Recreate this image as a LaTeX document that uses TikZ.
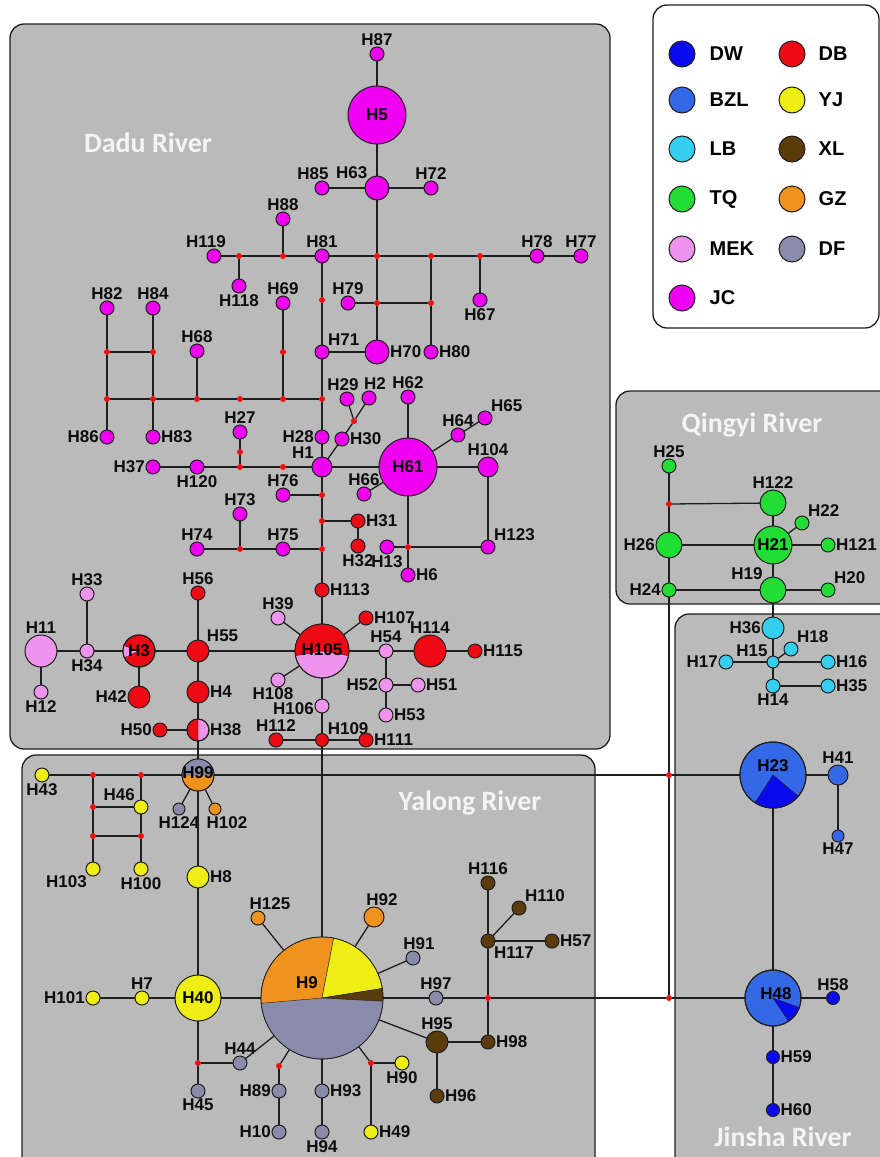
\documentclass[tikz,border=0pt]{standalone}
\usepackage{fontspec}
\setmainfont{Liberation Sans}
\newfontfamily\riverfont{Carlito}
\usetikzlibrary{positioning}

\definecolor{jc}{HTML}{F000F0}
\definecolor{db}{HTML}{EE0A14}
\definecolor{mek}{HTML}{EE94EE}
\definecolor{dw}{HTML}{0A0AEE}
\definecolor{bzl}{HTML}{3568E6}
\definecolor{lb}{HTML}{36CFEF}
\definecolor{tq}{HTML}{22DD33}
\definecolor{yj}{HTML}{EEEE14}
\definecolor{xl}{HTML}{5C3B0A}
\definecolor{gz}{HTML}{F0921E}
\definecolor{df}{HTML}{8A8AAA}
\definecolor{linecol}{HTML}{1E1E1E}
\definecolor{boxgray}{HTML}{BABABA}
\definecolor{titlecol}{HTML}{F4F4F4}
\definecolor{mvred}{HTML}{EE1111}

\newcommand{\hapslice}[5]{\filldraw[fill=#1,draw=linecol,line width=0.4pt] (#2.center) -- ++(#3:#5) arc[start angle=#3,end angle=#4,radius=#5] -- cycle;}

\begin{document}
\begin{tikzpicture}[
        x=1pt,y=-1pt,
        every label/.style={font=\bfseries\fontsize{17}{17}\selectfont,inner sep=1pt,text=black!95},
        every edge/.append style={draw=linecol,line width=1.3pt}
    ]

    \tikzstyle{river} = [draw=linecol,fill=boxgray,rounded corners=14pt,line width=1.3pt]
    \tikzstyle{hap} = [circle,draw=linecol,line width=1pt,inner sep=0pt,outer sep=0pt,minimum size=14pt,font=\bfseries\fontsize{17}{17}\selectfont]
    \tikzstyle{mv} = [circle,fill=mvred,inner sep=0pt,outer sep=0pt,minimum size=6pt]
    \tikzstyle{rivername} = [font=\riverfont\bfseries\fontsize{28}{28}\selectfont,text=titlecol]
    \tikzstyle{legdot} = [circle,draw=linecol,line width=1pt,minimum size=26pt,inner sep=0pt]
    \tikzstyle{legtext} = [inner sep=1pt,font=\bfseries\fontsize{20}{20}\selectfont]
    \tikzstyle{pietext} = [inner sep=0pt,font=\bfseries\fontsize{17}{17}\selectfont]

    \useasboundingbox (0,0) rectangle (880,1157);
    \clip (0,0) rectangle (880,1157);

    \draw[river] (10,24) rectangle (610,749);
    \draw[river] (22,755) rectangle (595,1172);
    \draw[river] (616,391) rectangle (895,604);
    \draw[river] (675,614) rectangle (895,1172);
    \draw[fill=white,draw=linecol,line width=1.3pt,rounded corners=14pt] (653,5) rectangle (879,328);

    \node[rivername] (dadu) at (148,143) {Dadu River};
    \node[rivername] (yalong) at (470,803) {Yalong River};
    \node[rivername] (qingyi) at (752,425) {Qingyi River};
    \node[rivername] (jinsha) at (783,1137) {Jinsha River};

    \node[legdot,fill=dw] (kDW) at (682,54) {};
    \node[legdot,fill=bzl] (kBZL) at (682,100) {};
    \node[legdot,fill=lb] (kLB) at (682,149) {};
    \node[legdot,fill=tq] (kTQ) at (682,199) {};
    \node[legdot,fill=mek] (kMEK) at (682,249) {};
    \node[legdot,fill=jc] (kJC) at (682,298) {};
    \node[legdot,fill=db] (kDB) at (792,54) {};
    \node[legdot,fill=yj] (kYJ) at (792,100) {};
    \node[legdot,fill=xl] (kXL) at (792,149) {};
    \node[legdot,fill=gz] (kGZ) at (792,199) {};
    \node[legdot,fill=df] (kDF) at (792,249) {};
    \node[legtext,right=13pt of kDW] {DW};
    \node[legtext,right=13pt of kBZL] {BZL};
    \node[legtext,right=13pt of kLB] {LB};
    \node[legtext,right=13pt of kTQ] {TQ};
    \node[legtext,right=13pt of kMEK] {MEK};
    \node[legtext,right=13pt of kJC] {JC};
    \node[legtext,right=12pt of kDB] {DB};
    \node[legtext,right=12pt of kYJ] {YJ};
    \node[legtext,right=12pt of kXL] {XL};
    \node[legtext,right=12pt of kGZ] {GZ};
    \node[legtext,right=12pt of kDF] {DF};

    \node[hap,fill=jc,label=above:H87] (H87) at (377,54) {};
    \node[hap,fill=jc,minimum size=58pt] (H5) at (377,115) {H5};
    \node[hap,fill=jc,minimum size=24pt,label=above left:H63] (H63) at (377,188) {};
    \node[hap,fill=jc,label={[xshift=-9pt]above:H85}] (H85) at (322,188) {};
    \node[hap,fill=jc,label=above:H72] (H72) at (431,188) {};
    \node[hap,fill=jc,label={[xshift=-8pt]above:H119}] (H119) at (214,256) {};
    \node[mv] (m1) at (239,256) {};
    \node[mv] (m2) at (283,256) {};
    \node[hap,fill=jc,label=above:H81] (H81) at (322,256) {};
    \node[mv] (m3) at (377,256) {};
    \node[mv] (m4) at (431,256) {};
    \node[mv] (m5) at (480,256) {};
    \node[hap,fill=jc,label=above:H78] (H78) at (537,256) {};
    \node[hap,fill=jc,label=above:H77] (H77) at (581,256) {};
    \node[hap,fill=jc,label=below:H118] (H118) at (239,286) {};
    \node[hap,fill=jc,label=above:H88] (H88) at (283,219) {};
    \node[hap,fill=jc,label=below:H67] (H67) at (480,300) {};
    \node[mv] (m6) at (377,303) {};
    \node[mv] (m7) at (431,303) {};
    \node[hap,fill=jc,label=above:H79] (H79) at (348,303) {};
    \node[mv] (m8) at (322,300) {};
    \node[hap,fill=jc,label=above:H69] (H69) at (283,303) {};
    \node[mv] (m9) at (283,352) {};
    \node[hap,fill=jc,label=above right:H71] (H71) at (322,352) {};
    \node[hap,fill=jc,minimum size=24pt,label=right:H70] (H70) at (377,352) {};
    \node[hap,fill=jc,label=right:H80] (H80) at (431,352) {};
    \node[mv] (m10) at (107,399) {};
    \node[mv] (m11) at (153,399) {};
    \node[mv] (m12) at (197,399) {};
    \node[mv] (m13) at (240,399) {};
    \node[mv] (m14) at (283,399) {};
    \node[mv] (m15) at (322,399) {};
    \node[mv] (m16) at (107,352) {};
    \node[mv] (m17) at (153,352) {};
    \node[hap,fill=jc,label=above:H82] (H82) at (107,308) {};
    \node[hap,fill=jc,label=above:H84] (H84) at (153,308) {};
    \node[hap,fill=jc,label=left:H86] (H86) at (107,437) {};
    \node[hap,fill=jc,label=right:H83] (H83) at (153,437) {};
    \node[hap,fill=jc,label=above:H68] (H68) at (197,351) {};
    \node[hap,fill=jc,label=left:H28] (H28) at (322,437) {};
    \node[hap,fill=jc,minimum size=20pt,label=above left:H1] (H1) at (322,467) {};
    \node[hap,fill=jc,label=right:H30] (H30) at (342,439) {};
    \node[mv] (m18) at (354,421) {};
    \node[hap,fill=jc,label={[xshift=-4pt]above:H29}] (H29) at (347,399) {};
    \node[hap,fill=jc,label={[xshift=6pt]above:H2}] (H2) at (369,398) {};
    \node[hap,fill=jc,minimum size=58pt] (H61) at (408,467) {H61};
    \node[hap,fill=jc,label=above:H62] (H62) at (408,397) {};
    \node[hap,fill=jc,label=above:H64] (H64) at (458,435) {};
    \node[hap,fill=jc,label=above right:H65] (H65) at (485,418) {};
    \node[hap,fill=jc,minimum size=20pt,label=above:H104] (H104) at (488,467) {};
    \node[hap,fill=jc,label=above right:H123] (H123) at (488,547) {};
    \node[hap,fill=jc,label=above:H66] (H66) at (364,494) {};
    \node[mv] (m19) at (408,547) {};
    \node[hap,fill=jc,label=below:H13] (H13) at (387,547) {};
    \node[hap,fill=jc,label=right:H6] (H6) at (408,575) {};
    \node[mv] (m20) at (283,467) {};
    \node[mv] (m21) at (240,467) {};
    \node[mv] (m22) at (240,452) {};
    \node[hap,fill=jc,label=above:H27] (H27) at (240,432) {};
    \node[hap,fill=jc,label=below:H120] (H120) at (197,467) {};
    \node[hap,fill=jc,label=left:H37] (H37) at (153,467) {};
    \node[mv] (m23) at (322,495) {};
    \node[hap,fill=jc,label=above:H76] (H76) at (283,495) {};
    \node[mv] (m24) at (322,521) {};
    \node[hap,fill=db,label=right:H31] (H31) at (358,521) {};
    \node[hap,fill=db,label=below:H32] (H32) at (358,546) {};
    \node[mv] (m25) at (322,549) {};
    \node[hap,fill=jc,label=above:H75] (H75) at (283,549) {};
    \node[mv] (m26) at (240,549) {};
    \node[hap,fill=jc,label=above:H74] (H74) at (197,549) {};
    \node[hap,fill=jc,label=above:H73] (H73) at (240,514) {};
    \node[hap,fill=db,label=right:H113] (H113) at (322,590) {};
    \node[hap,fill=mek,minimum size=54pt] (H105) at (322,651) {};
    \node[hap,fill=db,label=right:H107] (H107) at (366,618) {};
    \node[hap,fill=mek,label=above:H39] (H39) at (278,618) {};
    \node[hap,fill=mek,label={[xshift=-5pt,yshift=1pt]below:H108}] (H108) at (278,680) {};
    \node[hap,fill=mek,label=above:H54] (H54) at (386,651) {};
    \node[hap,fill=db,minimum size=32pt,label=above:H114] (H114) at (430,651) {};
    \node[hap,fill=db,label=right:H115] (H115) at (475,651) {};
    \node[hap,fill=mek,label=left:H52] (H52) at (386,685) {};
    \node[hap,fill=mek,label=right:H51] (H51) at (418,685) {};
    \node[hap,fill=mek,label=right:H53] (H53) at (386,715) {};
    \node[hap,fill=mek,label={[yshift=-3pt]left:H106}] (H106) at (322,706) {};
    \node[hap,fill=db,minimum size=13pt,label=above right:H109] (H109) at (322,740) {};
    \node[hap,fill=db,label=right:H111] (H111) at (366,740) {};
    \node[hap,fill=db,label=above:H112] (H112) at (276,740) {};
    \node[hap,fill=mek,minimum size=32pt,label=above:H11] (H11) at (41,651) {};
    \node[hap,fill=mek,label=below:H12] (H12) at (41,692) {};
    \node[hap,fill=mek,label=below:H34] (H34) at (87,651) {};
    \node[hap,fill=mek,label=above:H33] (H33) at (87,594) {};
    \node[hap,fill=db,minimum size=32pt] (H3) at (139,651) {};
    \node[hap,fill=db,minimum size=22pt,label=left:H42] (H42) at (139,697) {};
    \node[hap,fill=db,minimum size=22pt,label=above right:H55] (H55) at (198,651) {};
    \node[hap,fill=db,label=above:H56] (H56) at (198,593) {};
    \node[hap,fill=db,minimum size=22pt,label=right:H4] (H4) at (198,692) {};
    \node[hap,fill=mek,minimum size=22pt,label=right:H38] (H38) at (198,730) {};
    \node[hap,fill=db,label=left:H50] (H50) at (160,730) {};

    \node[hap,fill=gz,minimum size=32pt] (H99) at (198,775) {};
    \node[hap,fill=yj,label=below:H43] (H43) at (42,775) {};
    \node[mv] (m27) at (93,775) {};
    \node[mv] (m28) at (141,775) {};
    \node[mv] (m29) at (93,807) {};
    \node[hap,fill=yj,label=above left:H46] (H46) at (141,807) {};
    \node[mv] (m30) at (93,836) {};
    \node[mv] (m31) at (141,836) {};
    \node[hap,fill=yj,label=below left:H103] (H103) at (93,869) {};
    \node[hap,fill=yj,label=below:H100] (H100) at (141,869) {};
    \node[hap,fill=df,minimum size=12pt,label=below:H124] (H124) at (179,809) {};
    \node[hap,fill=gz,minimum size=12pt,label={[xshift=12pt]below:H102}] (H102) at (215,809) {};
    \node[hap,fill=yj,minimum size=22pt,label=right:H8] (H8) at (198,877) {};
    \node[hap,fill=yj,minimum size=46pt] (H40) at (198,998) {H40};
    \node[hap,fill=yj,label=above:H7] (H7) at (142,998) {};
    \node[hap,fill=yj,label=left:H101] (H101) at (93,998) {};
    \node[hap,fill=df,line width=0.6pt,minimum size=122pt] (H9) at (322,998) {};
    \node[hap,fill=gz,label={[xshift=12pt]above:H125}] (H125) at (258,918) {};
    \node[hap,fill=gz,minimum size=20pt,label={[xshift=8pt]above:H92}] (H92) at (374,917) {};
    \node[hap,fill=df,label={[xshift=6pt]above:H91}] (H91) at (413,958) {};
    \node[hap,fill=df,label=above:H97] (H97) at (436,998) {};
    \node[mv] (m32) at (488,998) {};
    \node[hap,fill=xl,label=below right:H117] (H117) at (488,941) {};
    \node[hap,fill=xl,label=above:H116] (H116) at (488,883) {};
    \node[hap,fill=xl,label=above right:H110] (H110) at (519,908) {};
    \node[hap,fill=xl,label=right:H57] (H57) at (552,941) {};
    \node[hap,fill=xl,label=right:H98] (H98) at (488,1042) {};
    \node[hap,fill=xl,minimum size=22pt,label=above:H95] (H95) at (437,1042) {};
    \node[hap,fill=xl,label=right:H96] (H96) at (437,1096) {};
    \node[mv] (m33) at (198,1063) {};
    \node[hap,fill=df,label=above:H44] (H44) at (240,1063) {};
    \node[hap,fill=df,label=below:H45] (H45) at (198,1091) {};
    \node[mv] (m34) at (279,1066) {};
    \node[hap,fill=df,label=left:H89] (H89) at (279,1091) {};
    \node[hap,fill=df,label=left:H10] (H10) at (279,1132) {};
    \node[hap,fill=df,label=right:H93] (H93) at (322,1091) {};
    \node[hap,fill=df,label=below:H94] (H94) at (322,1132) {};
    \node[mv] (m35) at (371,1063) {};
    \node[hap,fill=yj,label=below:H90] (H90) at (402,1063) {};
    \node[hap,fill=yj,label=right:H49] (H49) at (371,1132) {};

    \node[mv] (m36) at (669,775) {};
    \node[mv] (m37) at (669,998) {};
    \node[hap,fill=bzl,minimum size=66pt] (H23) at (773,775) {};
    \node[hap,fill=bzl,minimum size=20pt,label=above:H41] (H41) at (838,775) {};
    \node[hap,fill=bzl,minimum size=12pt,label=below:H47] (H47) at (838,836) {};
    \node[hap,fill=bzl,minimum size=56pt] (H48) at (773,998) {};
    \node[hap,fill=dw,minimum size=13pt,label=above:H58] (H58) at (833,998) {};
    \node[hap,fill=dw,minimum size=13pt,label=right:H59] (H59) at (773,1057) {};
    \node[hap,fill=dw,minimum size=13pt,label=right:H60] (H60) at (773,1110) {};
    \node[hap,fill=tq,label=above:H25] (H25) at (669,466) {};
    \node[mv] (m38) at (669,504) {};
    \node[hap,fill=tq,minimum size=26pt,label=above:H122] (H122) at (773,503) {};
    \node[hap,fill=tq,minimum size=26pt,label=left:H26] (H26) at (669,545) {};
    \node[hap,fill=tq,minimum size=38pt] (H21) at (773,545) {H21};
    \node[hap,fill=tq,label=above right:H22] (H22) at (802,523) {};
    \node[hap,fill=tq,label=right:H121] (H121) at (828,545) {};
    \node[hap,fill=tq,minimum size=26pt,label=above left:H19] (H19) at (773,590) {};
    \node[hap,fill=tq,label=left:H24] (H24) at (669,590) {};
    \node[hap,fill=tq,label=above right:H20] (H20) at (828,590) {};
    \node[hap,fill=lb,minimum size=22pt,label=left:H36] (H36) at (773,628) {};
    \node[hap,fill=lb,minimum size=12pt,label=above left:H15] (H15) at (773,662) {};
    \node[hap,fill=lb,label=above right:H18] (H18) at (791,649) {};
    \node[hap,fill=lb,label=left:H17] (H17) at (726,662) {};
    \node[hap,fill=lb,label=right:H16] (H16) at (828,662) {};
    \node[hap,fill=lb,label=below:H14] (H14) at (773,686) {};
    \node[hap,fill=lb,label=right:H35] (H35) at (828,686) {};

    \hapslice{gz}{H9}{79}{185}{61pt}
    \hapslice{yj}{H9}{9}{79}{61pt}
    \hapslice{xl}{H9}{-3}{9}{61pt}
    \draw[linecol,line width=0.6pt] (H9.center) circle[radius=61pt];
    \hapslice{db}{H105}{-10}{190}{27pt}
    \draw[linecol,line width=0.6pt] (H105.center) circle[radius=27pt];
    \hapslice{mek}{H3}{160}{205}{16pt}
    \draw[linecol,line width=1pt] (H3.center) circle[radius=16pt];
    \hapslice{db}{H38}{90}{270}{11pt}
    \draw[linecol,line width=1pt] (H38.center) circle[radius=11pt];
    \hapslice{df}{H99}{0}{180}{16pt}
    \draw[linecol,line width=0.6pt] (H99.center) circle[radius=16pt];
    \hapslice{dw}{H23}{-123}{-40}{33pt}
    \draw[linecol,line width=1pt] (H23.center) circle[radius=33pt];
    \hapslice{dw}{H48}{-56}{-20}{28pt}
    \draw[linecol,line width=1pt] (H48.center) circle[radius=28pt];

    \node[pietext] (t9) at (307,983) {H9};
    \node[pietext] (t105) at (322,650) {H105};
    \node[pietext] (t3) at (139,651) {H3};
    \node[pietext] (t99) at (198,773) {H99};
    \node[pietext] (t23) at (773,766) {H23};
    \node[pietext] (t48) at (776,994) {H48};

    \path
        (H87) edge (H5) (H5) edge (H63) (H85) edge (H63) (H63) edge (H72) (H63) edge (m3)
        (H119) edge (m1) (m1) edge (m2) (m2) edge (H81) (H81) edge (m3) (m3) edge (m4) (m4) edge (m5)
        (m5) edge (H78) (H78) edge (H77)
        (m1) edge (H118) (m2) edge (H88) (m5) edge (H67)
        (m3) edge (m6) (m6) edge (H70) (H79) edge (m6) (m6) edge (m7) (m7) edge (m4) (m7) edge (H80)
        (H81) edge (m8) (m8) edge (H71) (H71) edge (H70) (H71) edge (m15)
        (H69) edge (m9) (m9) edge (m14)
        (m10) edge (m11) (m11) edge (m12) (m12) edge (m13) (m13) edge (m14) (m14) edge (m15)
        (H82) edge (m16) (m16) edge (m10) (m10) edge (H86) (H84) edge (m17) (m17) edge (m11) (m11) edge (H83)
        (m16) edge (m17) (H68) edge (m12)
        (m15) edge (H28) (H28) edge (H1)
        (H1) edge (H30) (H30) edge (m18) (m18) edge (H29) (m18) edge (H2)
        (H1) edge (H61) (H61) edge (H62) (H61) edge (H64) (H64) edge (H65) (H61) edge (H104)
        (H104) edge (H123) (H61) edge (H66) (H61) edge (m19) (m19) edge (H13) (m19) edge (H123) (m19) edge (H6)
        (H1) edge (m20) (m20) edge (m21) (m21) edge (H120) (H120) edge (H37) (m21) edge (m22) (m22) edge (H27)
        (H1) edge (m23) (m23) edge (H76) (m23) edge (m24) (m24) edge (H31) (H31) edge (H32) (m24) edge (m25)
        (m25) edge (H75) (H75) edge (m26) (m26) edge (H74) (m26) edge (H73)
        (m25) edge (H113) (H113) edge (H105)
        (H105) edge (H107) (H105) edge (H39) (H105) edge (H108) (H105) edge (H54) (H54) edge (H114)
        (H114) edge (H115) (H54) edge (H52) (H52) edge (H51) (H52) edge (H53)
        (H105) edge (H106) (H106) edge (H109) (H109) edge (H112) (H109) edge (H111)
        (H105) edge (H55) (H55) edge (H3) (H3) edge (H34) (H34) edge (H11) (H11) edge (H12) (H34) edge (H33)
        (H3) edge (H42)
        (H55) edge (H56) (H55) edge (H4) (H4) edge (H38) (H38) edge (H50) (H38) edge (H99)
        (H109) edge (H9)
        (H43) edge (m27) (m27) edge (m28) (m28) edge (H99) (H99) edge (m36) (m36) edge (H23)
        (m27) edge (m29) (m29) edge (H46) (m28) edge (H46) (m29) edge (m30) (m30) edge (m31) (H46) edge (m31)
        (m30) edge (H103) (m31) edge (H100)
        (H99) edge (H124) (H99) edge (H102) (H99) edge (H8) (H8) edge (H40)
        (H101) edge (H7) (H7) edge (H40) (H40) edge (H9)
        (H40) edge (m33) (m33) edge (H44) (m33) edge (H45) (H44) edge (H9)
        (H9) edge (H125) (H9) edge (H92) (H9) edge (H91) (H9) edge (H97) (H97) edge (m32) (m32) edge (m37)
        (m37) edge (H48)
        (m32) edge (H117) (H117) edge (H116) (H117) edge (H110) (H117) edge (H57) (m32) edge (H98)
        (H98) edge (H95) (H95) edge (H9) (H95) edge (H96)
        (H9) edge (m34) (m34) edge (H89) (H89) edge (H10)
        (H9) edge (H93) (H93) edge (H94)
        (H9) edge (m35) (m35) edge (H90) (m35) edge (H49)
        (H25) edge (m38) (m38) edge (H26) (H26) edge (H24) (H24) edge (m36) (m36) edge (m37) (m38) edge (H122)
        (H122) edge (H21) (H26) edge (H21) (H21) edge (H22) (H21) edge (H121) (H21) edge (H19) (H24) edge (H19)
        (H19) edge (H20) (H19) edge (H36) (H36) edge (H15) (H15) edge (H17) (H15) edge (H16) (H15) edge (H18)
        (H15) edge (H14) (H14) edge (H35)
        (H23) edge (H41) (H41) edge (H47) (H23) edge (H48) (H48) edge (H58) (H48) edge (H59) (H59) edge (H60)
    ;

\end{tikzpicture}
\end{document}
